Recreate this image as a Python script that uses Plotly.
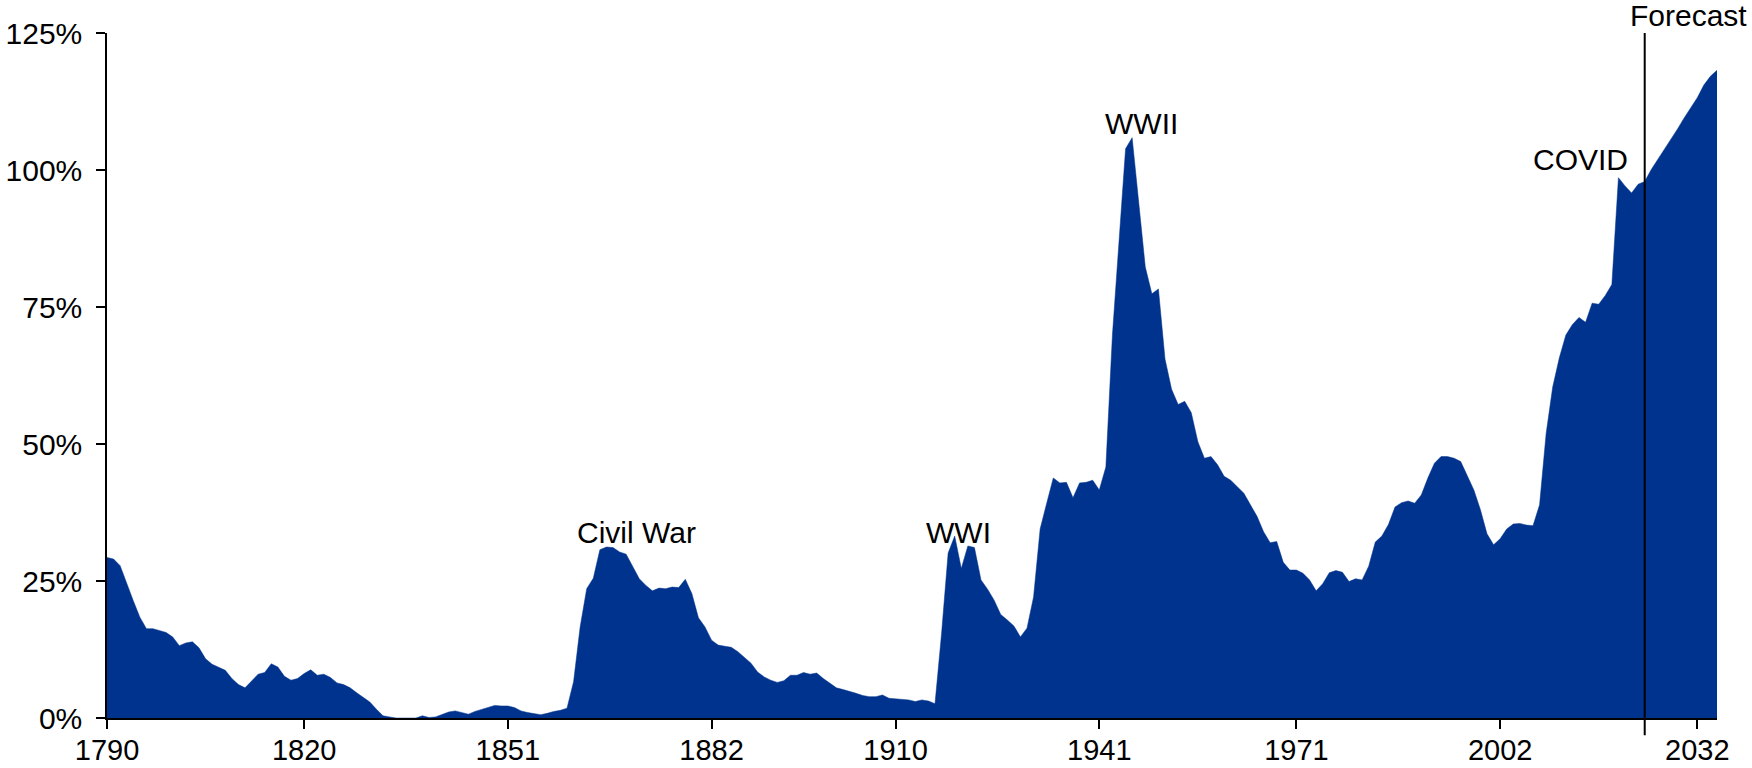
import plotly.graph_objects as go

years = list(range(1790, 2036))

debt_pct = [
    # 1790-1799
    29.3, 29.0, 27.8, 24.5, 21.4, 18.4, 16.3, 16.3, 15.9, 15.6,
    # 1800-1809
    14.8, 13.2, 13.7, 13.9, 12.8, 10.8, 9.8, 9.3, 8.7, 7.2,
    # 1810-1819
    6.1, 5.5, 6.7, 8.0, 8.3, 9.9, 9.3, 7.6, 6.9, 7.2,
    # 1820-1829
    8.1, 8.8, 7.8, 8.0, 7.4, 6.4, 6.1, 5.5, 4.6, 3.7,
    # 1830-1839
    2.9, 1.6, 0.4, 0.2, 0.0, 0.0, 0.0, 0.0, 0.4, 0.1,
    # 1840-1849
    0.2, 0.7, 1.1, 1.3, 1.0, 0.7, 1.2, 1.6, 2.0, 2.3,
    # 1850-1859
    2.2, 2.2, 1.9, 1.3, 1.0, 0.85, 0.6, 0.85, 1.2, 1.4,
    # 1860-1869
    1.8, 6.6, 16.6, 23.6, 25.5, 30.7, 31.2, 31.1, 30.3, 29.9,
    # 1870-1879
    27.6, 25.4, 24.2, 23.2, 23.7, 23.6, 23.9, 23.8, 25.3, 22.7,
    # 1880-1889
    18.3, 16.6, 14.2, 13.3, 13.1, 12.9, 12.1, 11.0, 10.0, 8.4,
    # 1890-1899
    7.5, 6.9, 6.5, 6.8, 7.8, 7.8, 8.3, 8.0, 8.2, 7.2,
    # 1900-1909
    6.3, 5.5, 5.2, 4.9, 4.5, 4.1, 3.9, 3.9, 4.2, 3.6,
    # 1910-1919
    3.5, 3.5, 3.3, 3.0, 3.3, 3.1, 2.6, 15.4, 30.1, 33.2,
    # 1920-1929
    27.3, 31.4, 31.1, 25.2, 23.5, 21.5, 18.9, 17.9, 16.8, 14.8,
    # 1930-1939
    16.4, 22.1, 34.5, 39.2, 43.8, 42.9, 43.0, 40.2, 42.9, 43.0,
    # 1940-1949
    43.4, 41.6, 45.8, 69.9, 87.0, 103.9, 105.9, 93.9, 82.3, 77.4,
    # 1950-1959
    78.3, 65.5, 60.0, 57.2, 57.8, 55.7, 50.4, 47.4, 47.7, 46.2,
    # 1960-1969
    44.1, 43.4, 42.2, 41.0, 38.9, 36.8, 34.0, 32.0, 32.2, 28.4,
    # 1970-1979
    27.0, 27.0, 26.4, 25.2, 23.2, 24.5, 26.5, 26.9, 26.6, 24.9,
    # 1980-1989
    25.4, 25.2, 27.7, 32.1, 33.2, 35.3, 38.5, 39.3, 39.6, 39.2,
    # 1990-1999
    40.7, 43.8, 46.5, 47.7, 47.7, 47.4, 46.8, 44.3, 41.6, 38.0,
    # 2000-2009
    33.6, 31.6, 32.7, 34.5, 35.4, 35.5, 35.2, 35.1, 38.9, 51.9,
    # 2010-2019
    60.4, 65.7, 69.9, 71.8, 73.1, 72.2, 75.7, 75.5, 77.1, 79.1,
    # 2020-2029
    98.6, 97.1, 95.8, 97.4, 97.9, 100.1, 101.9, 103.7, 105.6, 107.5,
    # 2030-2035
    109.5, 111.4, 113.2, 115.5, 117.1, 118.2,
]

x_ticks = [1790, 1820, 1851, 1882, 1910, 1941, 1971, 2002, 2032]
y_ticks = [0, 25, 50, 75, 100, 125]
y_tick_labels = [f"{v}%" for v in y_ticks]

forecast_year = 2024
forecast_label = "Forecast"
forecast_label_x = 2030.7

event_labels = ["Civil War", "WWI", "WWII", "COVID"]
event_x = [1870.6, 1919.5, 1947.4, 2014.3]
event_y = [33.9, 33.9, 108.5, 102.0]

FONT = "Liberation Sans, Arial, Helvetica, sans-serif"
FILL = "#00338D"

fig = go.Figure()
fig.add_trace(go.Scatter(
    x=years, y=debt_pct, mode="lines", fill="tozeroy",
    fillcolor=FILL, line=dict(color=FILL, width=0.5),
    hoverinfo="x+y", showlegend=False,
))

fig.add_shape(type="line", xref="x", yref="paper",
              x0=forecast_year, x1=forecast_year, y0=-0.025, y1=1,
              line=dict(color="black", width=2))

for t, xv, yv in zip(event_labels, event_x, event_y):
    fig.add_annotation(x=xv, y=yv, xref="x", yref="y", text=t, showarrow=False,
                       xanchor="center", yanchor="middle",
                       font=dict(family=FONT, size=30, color="black"))

fig.add_annotation(x=forecast_label_x, y=1, xref="x", yref="paper",
                   text=forecast_label, showarrow=False,
                   xanchor="center", yanchor="bottom", yshift=-1,
                   font=dict(family=FONT, size=30, color="black"))

axis_common = dict(
    showgrid=False, zeroline=False, showline=True, linecolor="black",
    linewidth=1.5, ticks="outside", ticklen=9, tickwidth=1.5,
    tickcolor="black", automargin=False,
)

fig.update_layout(
    width=1752, height=768,
    margin=dict(l=107, r=35, t=33, b=50, autoexpand=False),
    paper_bgcolor="white", plot_bgcolor="white",
    font=dict(family=FONT, size=30, color="black"),
    xaxis=dict(range=[1790, 2035], tickvals=x_ticks,
               ticktext=[str(v) for v in x_ticks], ticklabelstandoff=-4,
               tickfont=dict(family=FONT, size=29, color="black"),
               **axis_common),
    yaxis=dict(range=[0, 125], tickvals=y_ticks, ticktext=y_tick_labels,
               ticklabelstandoff=8,
               tickfont=dict(family=FONT, size=30, color="black"),
               **axis_common),
)

fig.write_html(
    "out.html",
    config={"displayModeBar": False},
    post_script="document.body.style.margin='0';document.body.style.overflow='hidden';",
)
